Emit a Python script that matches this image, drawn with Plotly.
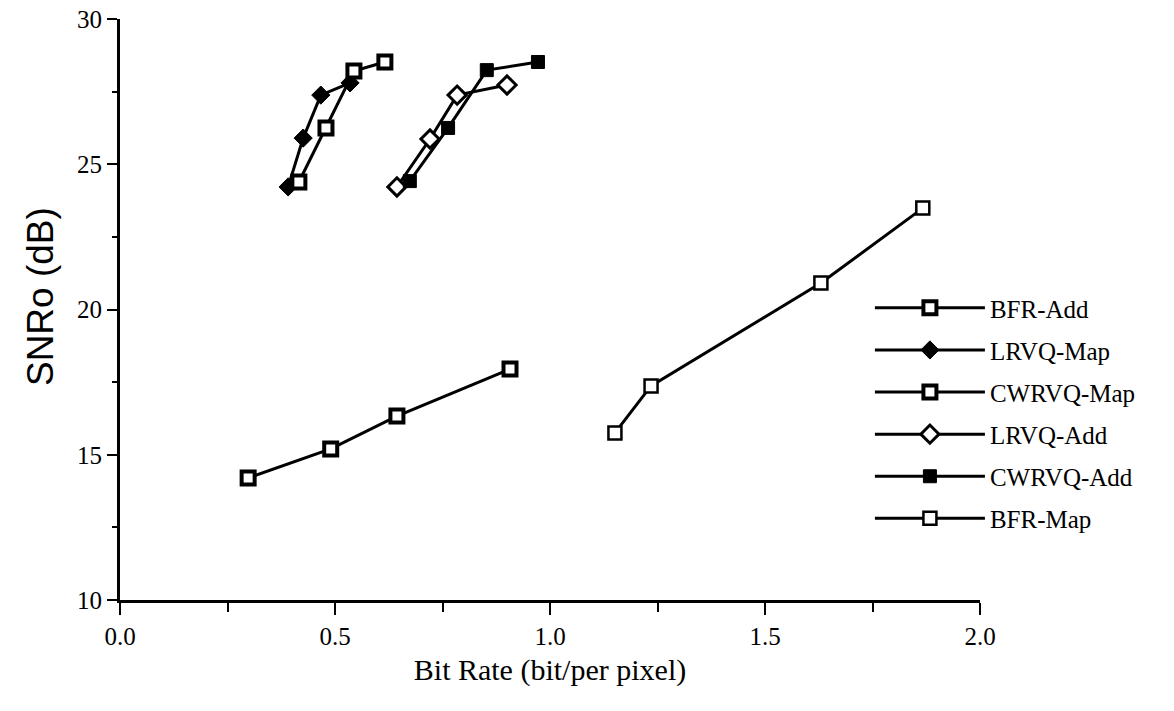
import plotly.graph_objects as go

# Data
bfr_add_x = [0.298, 0.490, 0.644, 0.907]
bfr_add_y = [14.2, 15.2, 16.33, 17.95]

lrvq_map_x = [0.391, 0.426, 0.467, 0.535]
lrvq_map_y = [24.22, 25.9, 27.38, 27.8]

cwrvq_map_x = [0.416, 0.479, 0.544, 0.616]
cwrvq_map_y = [24.39, 26.25, 28.21, 28.52]

lrvq_add_x = [0.644, 0.721, 0.784, 0.900]
lrvq_add_y = [24.22, 25.87, 27.38, 27.73]

cwrvq_add_x = [0.674, 0.763, 0.853, 0.972]
cwrvq_add_y = [24.42, 26.25, 28.24, 28.52]

bfr_map_x = [1.151, 1.235, 1.630, 1.867]
bfr_map_y = [15.75, 17.37, 20.91, 23.49]

x_tick_vals = [0, 0.5, 1.0, 1.5, 2.0]
x_tick_text = ["0.0", "0.5", "1.0", "1.5", "2.0"]
y_tick_vals = [10, 15, 20, 25, 30]

series = [
    ("BFR-Add", bfr_add_x, bfr_add_y, dict(symbol="square", color="white", size=13, line=dict(color="black", width=4))),
    ("LRVQ-Map", lrvq_map_x, lrvq_map_y, dict(symbol="diamond", color="black", size=14, line=dict(color="black", width=1))),
    ("CWRVQ-Map", cwrvq_map_x, cwrvq_map_y, dict(symbol="square", color="white", size=13, line=dict(color="black", width=4))),
    ("LRVQ-Add", lrvq_add_x, lrvq_add_y, dict(symbol="diamond", color="white", size=14, line=dict(color="black", width=3))),
    ("CWRVQ-Add", cwrvq_add_x, cwrvq_add_y, dict(symbol="square", color="black", size=13, line=dict(color="black", width=1))),
    ("BFR-Map", bfr_map_x, bfr_map_y, dict(symbol="square", color="white", size=13, line=dict(color="black", width=2.5))),
]

fig = go.Figure()
for i, (name, xs, ys, mk) in enumerate(series):
    fig.add_trace(go.Scatter(
        x=xs, y=ys, name=name, mode="lines+markers",
        line=dict(color="black", width=3),
        marker=mk, legendgroup=f"g{i}",
    ))

serif = "Liberation Serif, Times New Roman, serif"
sans = "Liberation Sans, Arial, sans-serif"

fig.update_layout(
    width=1174, height=711,
    margin=dict(l=120, r=194, t=19, b=111, autoexpand=False),
    paper_bgcolor="white", plot_bgcolor="white",
    font=dict(family=serif, size=24, color="black"),
    showlegend=True,
    legend=dict(
        x=0.872, y=0.542, xanchor="left", yanchor="top",
        bgcolor="rgba(0,0,0,0)", borderwidth=0,
        font=dict(family=serif, size=25, color="black"),
        tracegroupgap=6.6, itemwidth=110,
        traceorder="grouped",
    ),
    xaxis=dict(
        range=[0, 2.0], tickvals=x_tick_vals, ticktext=x_tick_text,
        showgrid=False, zeroline=False, automargin=False,
        showline=True, linecolor="black", linewidth=3,
        ticks="outside", ticklen=12, tickwidth=2, tickcolor="black",
        minor=dict(dtick=0.25, ticks="outside", ticklen=9, tickwidth=2, tickcolor="black"),
        tickfont=dict(family=serif, size=25),
        title=dict(text="Bit Rate (bit/per pixel)", font=dict(family=serif, size=30), standoff=10),
    ),
    yaxis=dict(
        range=[10, 30], tickvals=y_tick_vals,
        showgrid=False, zeroline=False, automargin=False,
        showline=True, linecolor="black", linewidth=3,
        ticks="outside", ticklen=10, tickwidth=2, tickcolor="black",
        minor=dict(dtick=2.5, ticks="outside", ticklen=5, tickwidth=2, tickcolor="black"),
        tickfont=dict(family=serif, size=25),
    ),
    annotations=[dict(
        text="SNRo (dB)", textangle=-90, showarrow=False,
        xref="paper", yref="paper", x=-0.093, y=0.5215,
        xanchor="center", yanchor="middle",
        font=dict(family=sans, size=37, color="black"),
    )],
)

fig.write_html("out.html")
